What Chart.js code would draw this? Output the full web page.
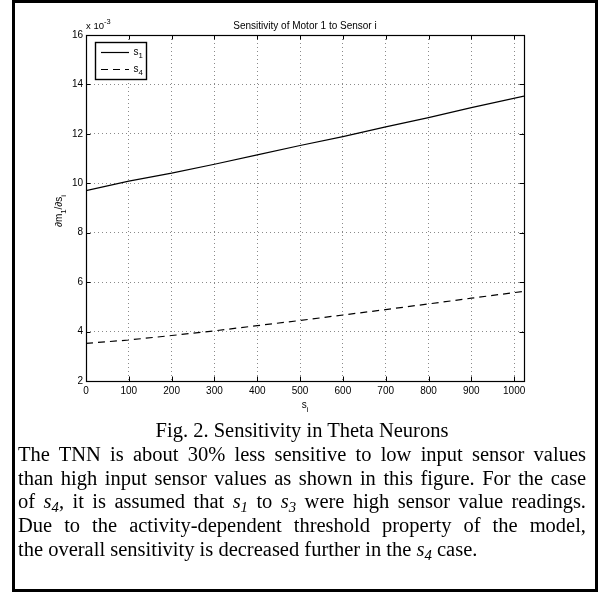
<!DOCTYPE html>
<html>
<head>
<meta charset="utf-8">
<script src="https://cdn.jsdelivr.net/npm/chart.js@4.4.1/dist/chart.umd.min.js"></script>
<style>
  html, body { margin: 0; padding: 0; background: #fff; }
  #page { position: relative; width: 604px; height: 595px; overflow: hidden; background: #fff; }
  #frame { position: absolute; left: 12px; top: 0; width: 586px; height: 592px; border: 3px solid #000; box-sizing: border-box; }
  #plot { position: absolute; left: 0; top: 0; width: 604px; height: 420px; }
  #caption { position: absolute; left: 18px; top: 419px; width: 568px;
             font-family: "Liberation Serif", "Times New Roman", serif; font-size: 20.5px; line-height: 23.8px; color: #000; }
  #caption .center { text-align: center; }
  #caption .ln { text-align: justify; text-align-last: justify; white-space: nowrap; }
  #caption .last { text-align: left; }
  #caption sub { font-size: 0.72em; line-height: 0; vertical-align: -0.3em; }
</style>
</head>
<body>
<div id="page">
  <div id="plot"><canvas id="chart" width="604" height="420"></canvas></div>
  <div id="caption">
    <div class="center">Fig. 2. Sensitivity in Theta Neurons</div>
    <div class="ln">The TNN is about 30% less sensitive to low input sensor values</div>
    <div class="ln">than high input sensor values as shown in this figure. For the case</div>
    <div class="ln">of <i>s<sub>4</sub></i>, it is assumed that <i>s<sub>1</sub></i> to <i>s<sub>3</sub></i> were high sensor value readings.</div>
    <div class="ln">Due to the activity-dependent threshold property of the model,</div>
    <div class="last">the overall sensitivity is decreased further in the <i>s<sub>4</sub></i> case.</div>
  </div>
  <div id="frame"></div>
</div>
<script>
// Sensor input values s_i (10-bit range, 0..1023)
const sensorValues = [0, 100, 200, 300, 400, 500, 600, 700, 800, 900, 1023];
// dm1/ds_i, in units of 10^-3
const sensS1 = [9.70, 10.09, 10.41, 10.77, 11.15, 11.53, 11.89, 12.28, 12.66, 13.06, 13.53];
const sensS4 = [3.52, 3.66, 3.84, 4.03, 4.24, 4.45, 4.67, 4.89, 5.12, 5.35, 5.63];
const seriesNames = ['s1', 's4'];
const xTicks = [0, 100, 200, 300, 400, 500, 600, 700, 800, 900, 1000];
const yTicks = [2, 4, 6, 8, 10, 12, 14, 16];

const FONT = '"Liberation Sans", Arial, Helvetica, sans-serif';
const FS = 10;
const TICK = 4.5;

// draws base text followed by smaller shifted scripts; returns the end x
function drawScripted(ctx, parts, x, y, size) {
  let cx = x;
  parts.forEach(([txt, kind]) => {
    const fs = kind ? size * 0.78 : size;
    ctx.font = fs + 'px ' + FONT;
    const dy = kind === 'sub' ? size * 0.38 : kind === 'sup' ? -size * 0.5 : 0;
    ctx.fillText(txt, cx, y + dy);
    cx += ctx.measureText(txt).width;
  });
  return cx;
}
function scriptedWidth(ctx, parts, size) {
  let w = 0;
  parts.forEach(([txt, kind]) => {
    ctx.font = (kind ? size * 0.78 : size) + 'px ' + FONT;
    w += ctx.measureText(txt).width;
  });
  return w;
}

const axesDecor = {
  id: 'axesDecor',
  afterDatasetsDraw(chart) {
    const { ctx, chartArea: a, scales: { x, y } } = chart;
    ctx.save();
    ctx.strokeStyle = '#000';
    ctx.fillStyle = '#000';
    ctx.lineWidth = 1;
    ctx.setLineDash([]);

    // inward tick marks on all four sides
    ctx.beginPath();
    xTicks.forEach(v => {
      const px = Math.round(x.getPixelForValue(v)) + 0.5;
      ctx.moveTo(px, a.bottom); ctx.lineTo(px, a.bottom - TICK);
      ctx.moveTo(px, a.top); ctx.lineTo(px, a.top + TICK);
    });
    yTicks.forEach(v => {
      const py = Math.round(y.getPixelForValue(v)) + 0.5;
      ctx.moveTo(a.left, py); ctx.lineTo(a.left + TICK, py);
      ctx.moveTo(a.right, py); ctx.lineTo(a.right - TICK, py);
    });
    ctx.stroke();

    // axes box
    ctx.lineWidth = 1.2;
    ctx.strokeRect(a.left + 0.5, a.top + 0.5, a.right - a.left, a.bottom - a.top);

    // title
    const cxm = (a.left + a.right) / 2;
    ctx.font = FS + 'px ' + FONT;
    ctx.textAlign = 'center';
    ctx.textBaseline = 'alphabetic';
    ctx.fillText('Sensitivity of Motor 1 to Sensor i', cxm, a.top - 6);

    // exponent multiplier
    ctx.textAlign = 'left';
    drawScripted(ctx, [['x 10', null], ['-3', 'sup']], a.left, a.top - 6, 9.5);

    // x axis title
    const xl = [['s', null], ['i', 'sub']];
    drawScripted(ctx, xl, cxm - scriptedWidth(ctx, xl, FS) / 2, a.bottom + 27, FS);

    // y axis title, rotated
    const yl = [['\u2202m', null], ['1', 'sub'], ['/\u2202s', null], ['i', 'sub']];
    ctx.save();
    ctx.translate(a.left - 24, (a.top + a.bottom) / 2 + 3);
    ctx.rotate(-Math.PI / 2);
    drawScripted(ctx, yl, -scriptedWidth(ctx, yl, FS) / 2, 0, FS);
    ctx.restore();

    // legend box
    const lx = a.left + 9.5, ly = a.top + 7.5, lw = 51, lh = 37;
    ctx.fillStyle = '#fff';
    ctx.fillRect(lx, ly, lw, lh);
    ctx.lineWidth = 1.4;
    ctx.strokeRect(lx, ly, lw, lh);
    chart.data.datasets.forEach((ds, i) => {
      const rowY = ly + 10 + i * 17;
      ctx.strokeStyle = ds.borderColor;
      ctx.lineWidth = ds.borderWidth;
      ctx.setLineDash(ds.borderDash || []);
      ctx.beginPath();
      ctx.moveTo(lx + 5.5, rowY);
      ctx.lineTo(lx + 33.5, rowY);
      ctx.stroke();
      ctx.setLineDash([]);
      ctx.fillStyle = '#000';
      drawScripted(ctx, [[ds.label.charAt(0), null], [ds.label.slice(1), 'sub']], lx + 38, rowY + 2, FS);
    });
    ctx.restore();
  }
};

const gridStyle = { color: '#8a8a8a', lineWidth: 1, drawTicks: false };
const tickFont = { family: FONT, size: FS };

new Chart(document.getElementById('chart'), {
  type: 'line',
  data: {
    datasets: [
      {
        label: seriesNames[0],
        data: sensorValues.map((v, i) => ({ x: v, y: sensS1[i] })),
        borderColor: '#000', borderWidth: 1.2, pointRadius: 0, fill: false, tension: 0
      },
      {
        label: seriesNames[1],
        data: sensorValues.map((v, i) => ({ x: v, y: sensS4[i] })),
        borderColor: '#000', borderWidth: 1.2, borderDash: [7, 5], pointRadius: 0, fill: false, tension: 0
      }
    ]
  },
  options: {
    responsive: false,
    animation: false,
    devicePixelRatio: 1,
    layout: { padding: { top: 35, right: 80, left: 0, bottom: 0 } },
    plugins: { legend: { display: false }, title: { display: false }, tooltip: { enabled: false } },
    scales: {
      x: {
        type: 'linear', min: 0, max: 1023,
        afterBuildTicks: s => { s.ticks = xTicks.map(v => ({ value: v })); },
        afterFit: s => { s.height = 39; },
        ticks: { color: '#000', font: tickFont, padding: 4, maxRotation: 0, autoSkip: false, callback: v => String(v) },
        grid: gridStyle,
        border: { display: false, dash: [1, 3] }
      },
      y: {
        type: 'linear', min: 2, max: 16,
        afterBuildTicks: s => { s.ticks = yTicks.map(v => ({ value: v })); },
        afterFit: s => { s.width = 86; },
        ticks: { color: '#000', font: tickFont, padding: 3, callback: v => String(v) },
        grid: gridStyle,
        border: { display: false, dash: [1, 3] }
      }
    }
  },
  plugins: [axesDecor]
});
</script>
</body>
</html>
